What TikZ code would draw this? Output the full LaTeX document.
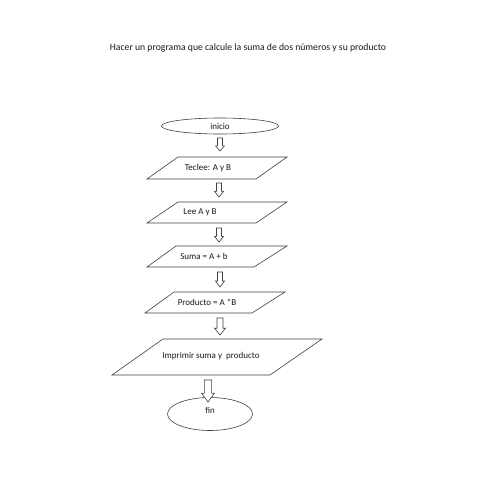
\documentclass[tikz,border=0pt]{standalone}
\usepackage{fontspec}
\setmainfont{Carlito}
\usetikzlibrary{calc,shapes.geometric}
\tikzset{
  shp/.style={draw=black!75, line width=0.6pt},
  lbl/.style={font=\fontsize{9}{11}\selectfont, inner sep=0pt, text=black!90},
  term/.style={shp, ellipse, inner sep=0pt, font=\fontsize{9}{11}\selectfont, text=black!90},
  barr/.style={draw=black!75, line width=0.6pt, fill=white, line join=miter},
}
\newcommand\blockarr[3]{%
  \draw[barr] let \p1=(#1), \p2=(#2), \n1={0.4*(\y2-\y1)} in
    ({\x1-0.55*#3pt},\y1) -- ({\x1+0.55*#3pt},\y1) -- ({\x1+0.55*#3pt},{\y2-\n1})
    -- ({\x1+#3pt},{\y2-\n1}) -- (\x1,\y2) -- ({\x1-#3pt},{\y2-\n1})
    -- ({\x1-0.55*#3pt},{\y2-\n1}) -- cycle;}
\begin{document}
\begin{tikzpicture}[x=1pt,y=-1pt]
\useasboundingbox[fill=white] (0,0) rectangle (495,495);
\node[font=\fontsize{9.7}{12}\selectfont, text=black!90] (title) at (248,48) {Hacer un programa que calcule la suma de dos números y su producto};

\node[term, minimum width=117pt, minimum height=16pt] (inicio) at (220,126) {inicio};

\draw[shp] (178,157) -- (287,157) -- (256,179) -- (147,179) -- cycle;
\node[lbl] (teclee) at (208,168) {Teclee: A y B};

\draw[shp] (178,202) -- (287,202) -- (256,223) -- (147,223) -- cycle;
\node[lbl] (lee) at (200,212.5) {Lee A y B};

\draw[shp] (176,246) -- (287,246) -- (254,267) -- (147,267) -- cycle;
\node[lbl] (suma) at (204,256.5) {Suma = A + b};

\draw[shp] (174,292) -- (285,292) -- (252,313) -- (145,313) -- cycle;
\node[lbl] (prod) at (207,302) {Producto = A *B};

\draw[shp] (163,339) -- (322,339) -- (270,375) -- (112,375) -- cycle;
\node[lbl] (impr) at (211,356) {Imprimir suma y\ \ producto};

\node[term, minimum width=85pt, minimum height=33pt] (fin) at (210,414) {};
\node[lbl] (fintxt) at (210,410) {fin};

\coordinate (a1s) at (220,138); \coordinate (a1e) at (220,151);
\coordinate (a2s) at (219,183); \coordinate (a2e) at (219,197);
\coordinate (a3s) at (219,228); \coordinate (a3e) at (219,242);
\coordinate (a4s) at (220,272); \coordinate (a4e) at (220,287);
\coordinate (a5s) at (220,318); \coordinate (a5e) at (220,335);
\coordinate (a6s) at (208,380); \coordinate (a6e) at (208,402);

\blockarr{a1s}{a1e}{4.5}
\blockarr{a2s}{a2e}{4.5}
\blockarr{a3s}{a3e}{4.5}
\blockarr{a4s}{a4e}{4.5}
\blockarr{a5s}{a5e}{5.5}
\blockarr{a6s}{a6e}{6.5}
\end{tikzpicture}
\end{document}
